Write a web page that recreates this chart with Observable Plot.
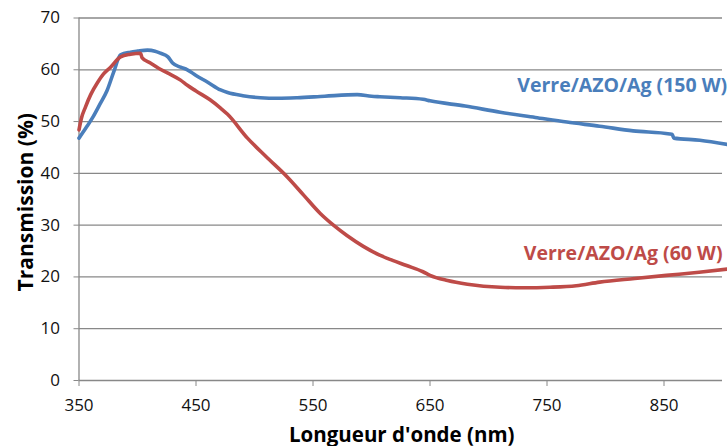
<!DOCTYPE html>
<html>
<head>
<meta charset="utf-8">
<script src="https://cdn.jsdelivr.net/npm/d3@7"></script>
<script src="https://cdn.jsdelivr.net/npm/@observablehq/plot@0.6"></script>
<style>
  html, body { margin: 0; padding: 0; background: #fff; }
  svg { display: block; }
</style>
</head>
<body>
<div id="chart"></div>
<script>
// Wavelength (nm) and transmission (%)
const wl150 = [350, 356, 362, 368, 374, 380, 385.5, 394, 400, 408.5, 415, 419.6, 426, 430, 436.8, 442.6, 450, 460, 471, 477, 490, 505, 520, 536.6, 560, 587.8, 600, 607, 624.5, 644, 650, 680, 710, 740, 767, 795, 823.6, 855, 857, 858.5, 880.6, 904];
const t150  = [46.8, 48.8, 50.9, 53.4, 56.0, 59.8, 62.9, 63.4, 63.6, 63.8, 63.6, 63.2, 62.5, 61.3, 60.5, 60.0, 58.9, 57.6, 56.1, 55.6, 55.0, 54.6, 54.5, 54.6, 54.9, 55.2, 54.9, 54.8, 54.6, 54.3, 54.0, 53.0, 51.8, 50.8, 49.9, 49.1, 48.2, 47.6, 47.5, 46.8, 46.4, 45.6];

const wl60 = [350, 352, 355.5, 360, 366, 371, 377, 385.5, 394, 402.5, 404, 411, 418, 425.6, 436.8, 442.6, 450, 462, 471, 477, 494, 510, 528, 542, 556, 568, 579, 593, 607, 618, 630, 644, 650, 665, 682, 710, 730, 752.6, 775, 795, 825, 852, 880, 904];
const t60  = [48.4, 50.6, 52.8, 55.2, 57.6, 59.2, 60.5, 62.5, 63.0, 63.2, 62.3, 61.3, 60.3, 59.4, 58.0, 57.0, 55.9, 54.2, 52.6, 51.4, 46.8, 43.2, 39.3, 35.8, 32.3, 29.9, 28.0, 25.9, 24.2, 23.2, 22.2, 21.0, 20.3, 19.3, 18.6, 18.0, 17.9, 18.0, 18.3, 19.0, 19.7, 20.3, 20.9, 21.5];

const seriesNames = ["Verre/AZO/Ag (150 W)", "Verre/AZO/Ag (60 W)"];
const seriesColors = ["#4a7ebb", "#be4b48"];
const xTicks = [350, 450, 550, 650, 750, 850];
const yTicks = [0, 10, 20, 30, 40, 50, 60, 70];
const xLabel = "Longueur d'onde (nm)";
const yLabel = "Transmission (%)";
// label anchor points in data units
const labelPos = [{x: 904, y: 55.8}, {x: 900, y: 23.2}];

const d150 = wl150.map((x, i) => ({x, y: t150[i]}));
const d60 = wl60.map((x, i) => ({x, y: t60[i]}));
const labels = seriesNames.map((name, i) => ({name, color: seriesColors[i], ...labelPos[i]}));

const font = "'Open Sans', 'Liberation Sans', sans-serif";
const gray = "#888888";

const plot = Plot.plot({
  width: 727,
  height: 446,
  marginLeft: 78.5,
  marginRight: 5,
  marginTop: 17.5,
  marginBottom: 66,
  style: {fontFamily: font, background: "#fff", overflow: "visible"},
  x: {domain: [350, 900], label: null},
  y: {domain: [0, 70], label: null},
  marks: [
    Plot.gridY(yTicks.filter(d => d > 0), {stroke: gray, strokeOpacity: 1, strokeWidth: 1.3}),
    Plot.ruleY([0], {stroke: gray, strokeWidth: 1.3}),
    Plot.ruleX([350], {stroke: gray, strokeWidth: 1.3}),
    Plot.axisY({ticks: yTicks, tickSize: 5, tickPadding: 14, stroke: gray, strokeOpacity: 1,
      fontSize: 17, fill: "#111", label: null, tickFormat: d => String(d)}),
    Plot.axisX({ticks: xTicks, tickSize: 6, tickPadding: 12, stroke: gray, strokeOpacity: 1,
      fontSize: 17, fill: "#111", label: null, tickFormat: d => String(d)}),
    Plot.line(d150, {x: "x", y: "y", stroke: seriesColors[0], strokeWidth: 3.6, curve: "monotone-x", clip: false}),
    Plot.line(d60, {x: "x", y: "y", stroke: seriesColors[1], strokeWidth: 3.6, curve: "monotone-x", clip: false}),
    Plot.text(labels, {x: "x", y: "y", text: "name", fill: "color", fontSize: 19.5, fontWeight: "bold",
      textAnchor: "end", lineAnchor: "bottom"}),
    Plot.text([xLabel], {frameAnchor: "bottom", dy: 61, text: d => d, fontSize: 20.5, fontWeight: "bold", fill: "#000", lineAnchor: "bottom", dx: 1}),
    Plot.text([yLabel], {frameAnchor: "left", dx: -53, dy: 3, textAnchor: "middle", text: d => d, rotate: -90, fontSize: 21, fontWeight: "bold", fill: "#000"})
  ]
});
document.getElementById("chart").appendChild(plot);
</script>
</body>
</html>
